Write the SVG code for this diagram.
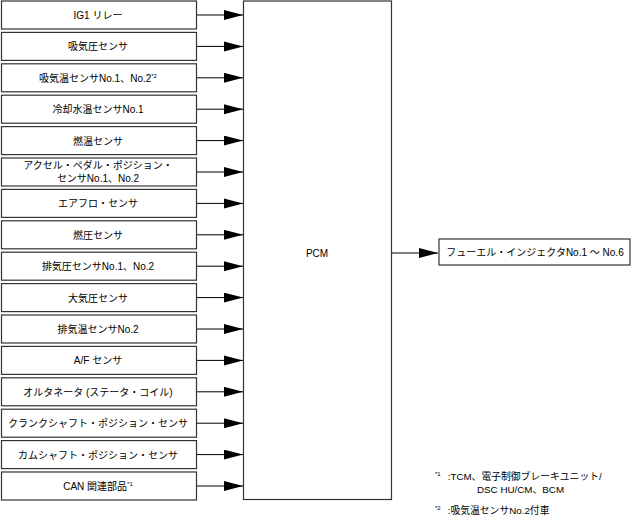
<svg xmlns="http://www.w3.org/2000/svg" width="634" height="520" viewBox="0 0 634 520">
<defs>
<style>
.box{fill:#fff;stroke:#333;stroke-width:1.2}
.t{font-family:"Liberation Sans","Noto Sans CJK JP",sans-serif;font-size:10px;fill:#000;text-anchor:middle}
.n{font-family:"Liberation Sans","Noto Sans CJK JP",sans-serif;font-size:9.8px;fill:#000}
.s{font-size:6px}
.c{stroke:#000;stroke-width:1;fill:none;marker-end:url(#ah)}
</style>
<marker id="ah" markerUnits="userSpaceOnUse" markerWidth="20" markerHeight="12" refX="19" refY="5" orient="auto">
<path d="M0,0 L19,5 L0,10 Z" fill="#000"/>
</marker>
</defs>
<rect width="634" height="520" fill="#fff"/>
<g id="connectors">
<line class="c" x1="197" y1="15" x2="243" y2="15"/>
<line class="c" x1="197" y1="46.4" x2="243" y2="46.4"/>
<line class="c" x1="197" y1="77.8" x2="243" y2="77.8"/>
<line class="c" x1="197" y1="109.2" x2="243" y2="109.2"/>
<line class="c" x1="197" y1="140.6" x2="243" y2="140.6"/>
<line class="c" x1="197" y1="172" x2="243" y2="172"/>
<line class="c" x1="197" y1="203.4" x2="243" y2="203.4"/>
<line class="c" x1="197" y1="234.8" x2="243" y2="234.8"/>
<line class="c" x1="197" y1="266.2" x2="243" y2="266.2"/>
<line class="c" x1="197" y1="297.6" x2="243" y2="297.6"/>
<line class="c" x1="197" y1="329" x2="243" y2="329"/>
<line class="c" x1="197" y1="360.4" x2="243" y2="360.4"/>
<line class="c" x1="197" y1="391.8" x2="243" y2="391.8"/>
<line class="c" x1="197" y1="423.2" x2="243" y2="423.2"/>
<line class="c" x1="197" y1="454.6" x2="243" y2="454.6"/>
<line class="c" x1="197" y1="486" x2="243" y2="486"/>
<line class="c" x1="391" y1="253" x2="438" y2="253"/>
</g>
<g id="n1"><rect class="box" x="1.5" y="1" width="195" height="28"/><text class="t" x="98" y="19">IG1 リレー</text></g>
<g id="n2"><rect class="box" x="1.5" y="32.4" width="195" height="28"/><text class="t" x="98" y="50.4">吸気圧センサ</text></g>
<g id="n3"><rect class="box" x="1.5" y="63.8" width="195" height="28"/><text class="t" x="98" y="81.8">吸気温センサNo.1、No.2<tspan class="s" dy="-4">*2</tspan></text></g>
<g id="n4"><rect class="box" x="1.5" y="95.2" width="195" height="28"/><text class="t" x="98" y="113.2">冷却水温センサNo.1</text></g>
<g id="n5"><rect class="box" x="1.5" y="126.6" width="195" height="28"/><text class="t" x="98" y="144.6">燃温センサ</text></g>
<g id="n6"><rect class="box" x="1.5" y="158" width="195" height="28"/><text class="t" x="98" y="169">アクセル・ペダル・ポジション・</text><text class="t" x="98" y="182">センサNo.1、No.2</text></g>
<g id="n7"><rect class="box" x="1.5" y="189.4" width="195" height="28"/><text class="t" x="98" y="207.4">エアフロ・センサ</text></g>
<g id="n8"><rect class="box" x="1.5" y="220.8" width="195" height="28"/><text class="t" x="98" y="238.8">燃圧センサ</text></g>
<g id="n9"><rect class="box" x="1.5" y="252.2" width="195" height="28"/><text class="t" x="98" y="270.2">排気圧センサNo.1、No.2</text></g>
<g id="n10"><rect class="box" x="1.5" y="283.6" width="195" height="28"/><text class="t" x="98" y="301.6">大気圧センサ</text></g>
<g id="n11"><rect class="box" x="1.5" y="315" width="195" height="28"/><text class="t" x="98" y="333">排気温センサNo.2</text></g>
<g id="n12"><rect class="box" x="1.5" y="346.4" width="195" height="28"/><text class="t" x="98" y="364.4">A/F センサ</text></g>
<g id="n13"><rect class="box" x="1.5" y="377.8" width="195" height="28"/><text class="t" x="98" y="395.8">オルタネータ (ステータ・コイル)</text></g>
<g id="n14"><rect class="box" x="1.5" y="409.2" width="195" height="28"/><text class="t" x="98" y="427.2">クランクシャフト・ポジション・センサ</text></g>
<g id="n15"><rect class="box" x="1.5" y="440.6" width="195" height="28"/><text class="t" x="98" y="458.6">カムシャフト・ポジション・センサ</text></g>
<g id="n16"><rect class="box" x="1.5" y="472" width="195" height="28"/><text class="t" x="98" y="490">CAN 関連部品<tspan class="s" dy="-4">*1</tspan></text></g>
<g id="pcm"><rect class="box" x="243.5" y="1" width="148" height="498.5"/><text class="t" x="317" y="257">PCM</text></g>
<g id="inj"><rect class="box" x="439" y="239" width="191" height="26"/><text class="t" x="535" y="256">フューエル・インジェクタNo.1 ～ No.6</text></g>
<g id="notes">
<text class="n" x="435" y="480"><tspan class="s" dy="-4">*1</tspan><tspan dy="4" dx="7">:TCM、電子制御ブレーキユニット/</tspan></text>
<text class="n" x="477" y="493">DSC HU/CM、BCM</text>
<text class="n" x="435" y="514"><tspan class="s" dy="-4">*2</tspan><tspan dy="4" dx="7">:吸気温センサNo.2付車</tspan></text>
</g>
</svg>
